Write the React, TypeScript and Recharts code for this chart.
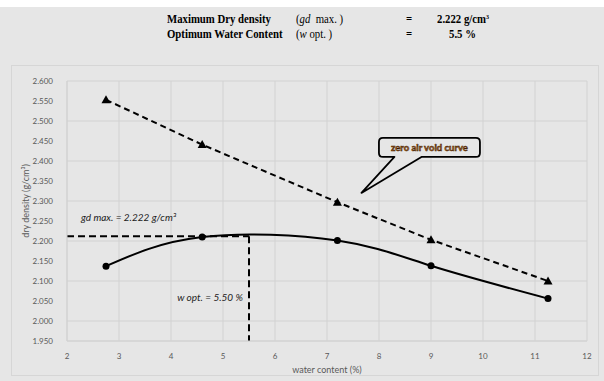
import React from 'react'
import {
  LineChart,
  Line,
  XAxis,
  YAxis,
  CartesianGrid,
  ReferenceLine,
  ReferenceDot,
} from 'recharts'

const waterContent = [2.75, 4.6, 7.2, 9.0, 11.25]
const dryDensity = [2.137, 2.21, 2.201, 2.138, 2.056]
const zeroAirVoid = [2.553, 2.441, 2.297, 2.203, 2.1]
const xTicks = [2, 3, 4, 5, 6, 7, 8, 9, 10, 11, 12]
const yTicks = [1.95, 2.0, 2.05, 2.1, 2.15, 2.2, 2.25, 2.3, 2.35, 2.4, 2.45, 2.5, 2.55, 2.6]

const gdMaxLine = 2.212
const wOpt = 5.5

const compactionData = waterContent.map((x, i) => ({ x, y: dryDensity[i] }))
const zavData = waterContent.map((x, i) => ({ x, y: zeroAirVoid[i] }))

const bg = '#e6e6e6'
const grid = '#d2d2d2'
const tickStyle = { fill: '#595959', fontSize: 8, fontFamily: 'Lato' }

function Triangle(props: any) {
  const { cx, cy } = props
  if (cx == null || cy == null) return null
  return <polygon points={`${cx},${cy - 4.5} ${cx + 4.5},${cy + 3.5} ${cx - 4.5},${cy + 3.5}`} fill="#000" />
}

// callout bubble, drawn relative to the anchor point
function Callout(props: any) {
  const { cx, cy } = props
  if (cx == null || cy == null) return null
  const w = 101
  const h = 19
  const left = cx - w / 2
  const top = cy - h / 2
  return (
    <g>
      <path
        d={`M ${left + 4} ${top} H ${left + w - 4} Q ${left + w} ${top} ${left + w} ${top + 4} V ${top + h - 4} Q ${left + w} ${top + h} ${left + w - 4} ${top + h} H ${cx - 8} L ${cx - 68} ${top + h + 36} L ${cx - 35} ${top + h} H ${left + 4} Q ${left} ${top + h} ${left} ${top + h - 4} V ${top + 4} Q ${left} ${top} ${left + 4} ${top} Z`}
        fill={bg}
        stroke="#000"
        strokeWidth={1.8}
        strokeLinejoin="round"
      />
      <text
        x={cx}
        y={cy + 3.5}
        textAnchor="middle"
        fontFamily="Lato"
        fontWeight={700}
        fontSize={9.5}
        fill="#b5651d"
        stroke="#3a1a00"
        strokeWidth={0.5}
      >
        zero air void curve
      </text>
    </g>
  )
}

function LabelText(text: string) {
  return (props: any) => {
    const { cx, cy } = props
    if (cx == null || cy == null) return null
    return (
      <text x={cx} y={cy} fontFamily="Lato" fontStyle="italic" fontSize={10} fill="#222">
        {text}
      </text>
    )
  }
}

export default function App() {
  const head: React.CSSProperties = {
    position: 'absolute',
    fontFamily: '"Liberation Serif", serif',
    fontSize: 12.5,
    color: '#000',
    whiteSpace: 'nowrap',
    lineHeight: '13px',
    transform: 'scaleX(0.86)',
    transformOrigin: 'left center',
  }
  return (
    <div style={{ position: 'absolute', left: 0, top: 0, width: 604, height: 381, background: bg, overflow: 'hidden' }}>
      <div style={{ position: 'absolute', left: 0, top: 0, width: 604, height: 7, background: '#fff' }} />
      {/* header text */}
      <div style={{ ...head, left: 167, top: 13, fontWeight: 700 }}>Maximum Dry density</div>
      <div style={{ ...head, left: 167, top: 28, fontWeight: 700 }}>Optimum Water Content</div>
      <div style={{ ...head, left: 296, top: 13 }}>(<i>gd</i>&nbsp; max. )</div>
      <div style={{ ...head, left: 296, top: 28 }}>(<i>w</i> opt. )</div>
      <div style={{ ...head, left: 406, top: 13, fontWeight: 700 }}>=</div>
      <div style={{ ...head, left: 406, top: 28, fontWeight: 700 }}>=</div>
      <div style={{ ...head, left: 437, top: 13, fontWeight: 700 }}>
        2.222 g/cm<span style={{ fontSize: 7, position: 'relative', top: -4 }}>3</span>
      </div>
      <div style={{ ...head, left: 449, top: 28, fontWeight: 700 }}>5.5 %</div>

      {/* chart area frame */}
      <div style={{ position: 'absolute', left: 11, top: 65, width: 586, height: 309, border: '1px solid #d6d6d6' }} />

      <div style={{ position: 'absolute', left: 0, top: 0 }}>
        <LineChart width={604} height={381} margin={{ top: 81, right: 17, bottom: 10, left: 0 }}>
          <CartesianGrid stroke={grid} strokeWidth={1} />
          <XAxis
            type="number"
            dataKey="x"
            domain={[2, 12]}
            ticks={xTicks}
            allowDataOverflow
            height={30}
            tick={tickStyle}
            tickLine={false}
            axisLine={{ stroke: grid }}
            tickMargin={6}
            label={{ value: 'water content (%)', position: 'insideBottom', offset: -2, fill: '#595959', fontSize: 9, fontFamily: 'Lato' }}
          />
          <YAxis
            type="number"
            dataKey="y"
            domain={[1.95, 2.6]}
            ticks={yTicks}
            allowDataOverflow
            width={67}
            tick={tickStyle}
            tickLine={false}
            axisLine={{ stroke: grid }}
            tickMargin={8}
            tickFormatter={(v: number) => v.toFixed(3)}
            label={{ value: 'dry density (g/cm³)', angle: -90, position: 'insideLeft', offset: 26, dy: -10, fill: '#595959', fontSize: 9, fontFamily: 'Lato', style: { textAnchor: 'middle' } }}
          />
          <ReferenceLine
            segment={[{ x: 2, y: gdMaxLine }, { x: wOpt, y: gdMaxLine }]}
            stroke="#000"
            strokeWidth={2}
            strokeDasharray="7 4"
          />
          <ReferenceLine
            segment={[{ x: wOpt, y: gdMaxLine }, { x: wOpt, y: 1.95 }]}
            stroke="#000"
            strokeWidth={2}
            strokeDasharray="7 4"
          />
          <Line
            data={zavData}
            dataKey="y"
            type="linear"
            stroke="#000"
            strokeWidth={2}
            strokeDasharray="6 4"
            dot={<Triangle />}
            activeDot={false}
            isAnimationActive={false}
          />
          <Line
            data={compactionData}
            dataKey="y"
            type="natural"
            stroke="#000"
            strokeWidth={2}
            dot={{ r: 3.5, fill: '#000', stroke: '#000', strokeWidth: 0 }}
            activeDot={false}
            isAnimationActive={false}
          />
          <ReferenceDot x={2.27} y={2.25} r={0} shape={LabelText('gd max. = 2.222 g/cm³')} />
          <ReferenceDot x={4.12} y={2.05} r={0} shape={LabelText('w opt. = 5.50 %')} />
          <ReferenceDot x={8.97} y={2.434} r={0} shape={Callout} />
        </LineChart>
      </div>
    </div>
  )
}
